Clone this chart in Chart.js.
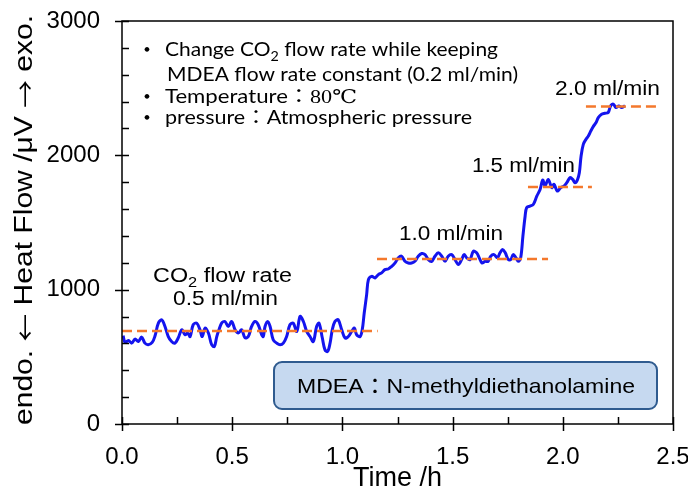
<!DOCTYPE html>
<html>
<head>
<meta charset="utf-8">
<script src="https://cdn.jsdelivr.net/npm/chart.js@4"></script>
<style>
body{margin:0;background:#fff;}
canvas{display:block;}
</style>
</head>
<body>
<canvas id="heatChart" width="688" height="495"></canvas>
<script>
// time (h) and heat flow (uV)
const timeH = [0.005,0.014,0.029,0.044,0.059,0.074,0.089,0.104,0.119,0.137,0.150,0.165,0.180,0.195,0.210,0.225,0.240,0.255,0.271,0.286,0.298,0.309,0.323,0.339,0.354,0.364,0.377,0.392,0.407,0.419,0.430,0.440,0.452,0.467,0.482,0.498,0.513,0.528,0.543,0.558,0.573,0.588,0.603,0.618,0.634,0.641,0.649,0.661,0.672,0.686,0.702,0.717,0.732,0.747,0.762,0.777,0.793,0.808,0.823,0.838,0.853,0.868,0.883,0.894,0.909,0.921,0.933,0.944,0.954,0.966,0.981,0.997,1.012,1.027,1.042,1.054,1.065,1.080,1.090,1.099,1.110,1.118,1.133,1.148,1.163,1.178,1.193,1.208,1.224,1.239,1.254,1.269,1.284,1.299,1.314,1.329,1.344,1.360,1.375,1.390,1.405,1.420,1.435,1.451,1.466,1.480,1.496,1.511,1.526,1.541,1.552,1.564,1.579,1.594,1.609,1.621,1.633,1.648,1.661,1.673,1.688,1.703,1.715,1.727,1.739,1.753,1.764,1.775,1.788,1.798,1.809,1.819,1.829,1.836,1.851,1.866,1.882,1.897,1.909,1.919,1.934,1.950,1.960,1.975,1.990,2.005,2.018,2.033,2.045,2.055,2.066,2.075,2.083,2.093,2.105,2.116,2.127,2.138,2.151,2.161,2.176,2.191,2.206,2.217,2.229,2.241,2.254,2.267,2.282];
const heatFlow = [657,607,622,602,632,614,647,602,590,607,657,751,776,726,651,614,602,640,701,664,677,651,739,751,701,651,714,677,590,577,651,701,751,763,726,763,701,677,701,642,651,726,763,739,664,651,726,763,726,627,602,590,602,651,739,751,689,801,763,689,651,614,726,751,640,552,540,602,701,763,776,701,640,651,689,714,664,651,701,826,963,1075,1099,1087,1112,1125,1149,1154,1174,1199,1237,1249,1211,1199,1199,1211,1249,1269,1261,1224,1211,1249,1274,1249,1211,1249,1261,1224,1187,1224,1261,1237,1224,1286,1274,1237,1199,1211,1211,1249,1261,1237,1274,1299,1274,1224,1224,1261,1237,1211,1237,1398,1547,1610,1622,1634,1696,1746,1816,1771,1821,1759,1784,1734,1759,1771,1796,1834,1821,1796,1816,1871,1995,2082,2119,2144,2181,2214,2244,2281,2306,2313,2319,2368,2381,2356,2368,2356,2368];

// dashed plateau levels for each CO2 flow rate
const levelStart = [0.0, 1.157, 1.842, 2.105];
const levelEnd = [1.16, 1.933, 2.132, 2.432];
const levelValue = [692, 1229, 1765, 2363];

const xTicks = {min:0, max:2.5, step:0.5, minor:0.25};
const yTicks = {min:0, max:3000, step:1000, minor:200};

const mainSeries = timeH.map((t,i)=>({x:t, y:heatFlow[i]}));

const datasets = [{
data: mainSeries,
borderColor: "#1414ee",
borderWidth: 3,
pointRadius: 0,
tension: 0.35,
order: 1
}];
levelValue.forEach((v,i)=>{
datasets.push({
data: [{x:levelStart[i], y:v},{x:levelEnd[i], y:v}],
borderColor: "#f4782c",
borderWidth: 2.5,
borderDash: [10,5],
pointRadius: 0,
order: 0
});
});

function fitText(ctx, runs, x, y, width){
let total = 0;
runs.forEach(r=>{
ctx.font = r.font;
r.w = ctx.measureText(r.t).width;
total += r.w;
});
const sx = width/total;
ctx.save();
ctx.translate(x,y);
ctx.scale(sx,1);
let cx = 0;
runs.forEach(r=>{
ctx.font = r.font;
ctx.fillText(r.t, cx, r.dy || 0);
cx += r.w;
});
ctx.restore();
}

const lato = "19px Lato";
const latoSub = "13px Lato";
const cjk = "19px 'Noto Sans CJK JP'";
const arial = "20px 'Liberation Sans', Arial";
const arialSub = "14px 'Liberation Sans', Arial";
const titleFont = "26px 'Liberation Sans', Arial";
const arrowFont = "24px 'Noto Sans CJK JP'";

const decoPlugin = {
id: "deco",
afterDraw(chart){
const ctx = chart.ctx;
const area = chart.chartArea;
const xs = chart.scales.x;
const ys = chart.scales.y;
ctx.save();
ctx.strokeStyle = "#000";
ctx.lineWidth = 1.5;
ctx.strokeRect(area.left, area.top, area.right-area.left, area.bottom-area.top);

ctx.beginPath();
for(let v=yTicks.min; v<=yTicks.max; v+=yTicks.minor){
const py = Math.round(ys.getPixelForValue(v))+0.5;
const major = v % yTicks.step === 0;
ctx.moveTo(area.left-(major?7:0), py);
ctx.lineTo(area.left+7, py);
}
for(let i=0; i*xTicks.minor<=xTicks.max+1e-9; i++){
const v = i*xTicks.minor;
const px = Math.round(xs.getPixelForValue(v))+0.5;
const major = i % 2 === 0;
ctx.moveTo(px, area.bottom+(major?7:0));
ctx.lineTo(px, area.bottom-7);
}
ctx.stroke();

// y axis title, rotated
ctx.fillStyle = "#000";
ctx.textAlign = "left";
ctx.textBaseline = "middle";
ctx.save();
ctx.translate(25, 425);
ctx.rotate(-Math.PI/2);
fitText(ctx, [{t:"endo. ", font:titleFont},{t:"\u2190", font:arrowFont},{t:" Heat Flow /\u03bcV ", font:titleFont},{t:"\u2192", font:arrowFont},{t:" exo.", font:titleFont}], 0, 0, 410);
ctx.restore();
ctx.textBaseline = "alphabetic";

// info box
ctx.fillStyle = "#c6d9f0";
ctx.strokeStyle = "#2f5b8f";
ctx.lineWidth = 2;
ctx.beginPath();
ctx.roundRect(274, 362, 383, 47, 8);
ctx.fill();
ctx.stroke();

ctx.fillStyle = "#000";
fitText(ctx, [{t:"MDEA", font:"21px 'Liberation Sans', Arial"},{t:"：", font:"21px 'Noto Sans CJK JP'"},{t:"N-methyldiethanolamine", font:"21px 'Liberation Sans', Arial"}], 297, 393, 338);

// conditions
ctx.textAlign = "center";
ctx.font = "22px 'Noto Sans CJK JP'";
ctx.fillText("・", 147, 57);
ctx.fillText("・", 147, 104);
ctx.fillText("・", 147, 125);
ctx.textAlign = "left";
fitText(ctx, [{t:"Change CO", font:lato},{t:"2", font:latoSub, dy:5},{t:" flow rate while keeping", font:lato}], 165, 56, 333);
fitText(ctx, [{t:"MDEA flow rate constant (0.2 ml/min)", font:lato}], 167, 81, 351);
fitText(ctx, [{t:"Temperature", font:lato},{t:"：", font:cjk},{t:"80℃", font:"19px 'Liberation Serif', 'DejaVu Serif', serif"}], 165, 103, 192);
fitText(ctx, [{t:"pressure", font:lato},{t:"：", font:cjk},{t:"Atmospheric pressure", font:lato}], 165, 124, 307);

// flow rate labels
fitText(ctx, [{t:"CO", font:arial},{t:"2", font:arialSub, dy:5},{t:" flow rate", font:arial}], 153, 282, 139);
fitText(ctx, [{t:"0.5 ml/min", font:arial}], 173, 305, 105);
fitText(ctx, [{t:"1.0 ml/min", font:arial}], 399, 240, 104);
fitText(ctx, [{t:"1.5 ml/min", font:arial}], 472, 172, 103);
fitText(ctx, [{t:"2.0 ml/min", font:arial}], 555, 95, 105);
ctx.restore();
}
};

const ctx = document.getElementById("heatChart");
new Chart(ctx,{
type: "line",
data: {datasets: datasets},
options: {
responsive: false,
animation: false,
layout: {padding: {left:0, top:21, right:15, bottom:0}},
plugins: {legend:{display:false}, tooltip:{enabled:false}},
scales: {
x: {
type: "linear",
min: xTicks.min,
max: xTicks.max,
afterFit: s=>{ s.height = 71; s.paddingLeft = 0; s.paddingRight = 0; },
border: {display:false},
grid: {drawOnChartArea:false, drawTicks:false, display:false},
ticks: {
stepSize: xTicks.step,
padding: 19,
color: "#000",
font: {family:"'Liberation Sans', Arial", size:24},
callback: v=>v.toFixed(1)
},
title: {
display: true,
text: "Time /h",
color: "#000",
font: {family:"'Liberation Sans', Arial", size:27},
padding: {top:0, bottom:0}
}
},
y: {
min: yTicks.min,
max: yTicks.max,
afterFit: s=>{ s.width = 122; s.paddingTop = 0; s.paddingBottom = 0; },
border: {display:false},
grid: {drawOnChartArea:false, drawTicks:false, display:false},
ticks: {
stepSize: yTicks.step,
padding: 22,
color: "#000",
font: {family:"'Liberation Sans', Arial", size:24},
callback: v=>String(v)
}
}
}
},
plugins: [decoPlugin]
});
</script>
</body>
</html>
